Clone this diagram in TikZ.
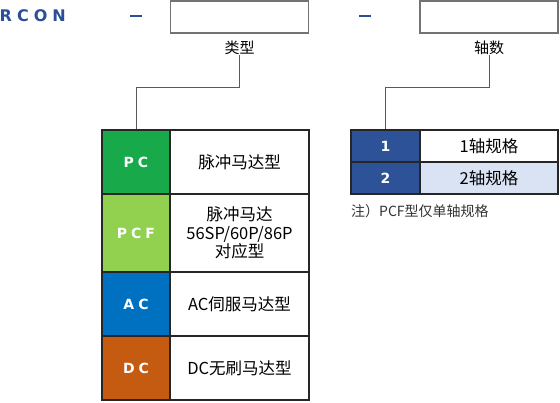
\documentclass[tikz,border=0pt]{standalone}
\usepackage{fontspec}
\setmainfont{Noto Sans CJK SC}
\newfontfamily\codefont{DejaVu Sans Bold}
\usetikzlibrary{positioning}
\definecolor{rconblue}{RGB}{43,79,150}
\definecolor{pcgreen}{RGB}{24,170,74}
\definecolor{pcfgreen}{RGB}{146,208,80}
\definecolor{acblue}{RGB}{0,112,192}
\definecolor{dcorange}{RGB}{197,90,17}
\definecolor{axisblue}{RGB}{45,82,152}
\definecolor{axislight}{RGB}{218,227,243}
\newcommand{\gap}[1]{\hspace{#1}}

\begin{document}
\begin{tikzpicture}[x=1pt, y=-1pt,
  slot/.style={draw=black!55, line width=1.3pt, minimum width=138pt, minimum height=32pt, inner sep=0pt},
  lbl/.style={inner sep=0pt, font=\fontsize{15}{18}\selectfont},
  code/.style={draw=black!85, line width=1.2pt, inner sep=0pt, text=white,
    font=\codefont\fontsize{14}{16}\selectfont},
  desc/.style={draw=black!85, line width=1.2pt, inner sep=0pt, align=center,
    font=\fontsize{16.5}{18.5}\selectfont},
  conn/.style={draw=black!65, line width=0.9pt}]
\useasboundingbox (0,0) rectangle (560,402);
% model code line
\node[anchor=west, inner sep=0pt, text=rconblue,
  font=\codefont\fontsize{16}{18}\selectfont] (rcon) at (-0.5,16) {R\gap{5pt}C\gap{5pt}O\gap{5pt}N};
\draw[rconblue, line width=2pt] (130,16) -- (142,16);
\draw[rconblue, line width=2pt] (359,16) -- (371,16);
\node[slot] (box1) at (239.5,17) {};
\node[slot] (box2) at (489,17) {};
\node[lbl, below=7pt of box1] (type) {类型};
\node[lbl, below=7pt of box2] (axis) {轴数};
% type table
\node[code, fill=pcgreen, minimum width=68pt, minimum height=64pt] (pc) at (136,162) {P\gap{4pt}C};
\node[code, fill=pcfgreen, minimum width=68pt, minimum height=78pt] (pcf) at (136,233) {P\gap{4pt}C\gap{4pt}F};
\node[code, fill=acblue, minimum width=68pt, minimum height=64pt] (ac) at (136,304) {A\gap{4pt}C};
\node[code, fill=dcorange, minimum width=68pt, minimum height=64pt] (dc) at (136,368) {D\gap{4pt}C};
\node[desc, minimum width=139pt, minimum height=64pt] (pcd) at (239.5,162) {脉冲马达型};
\node[desc, minimum width=139pt, minimum height=78pt] (pcfd) at (239.5,233) {脉冲马达\\56SP/60P/86P\\对应型};
\node[desc, minimum width=139pt, minimum height=64pt] (acd) at (239.5,304) {AC伺服马达型};
\node[desc, minimum width=139pt, minimum height=64pt] (dcd) at (239.5,368) {DC无刷马达型};
% axis table
\node[code, fill=axisblue, minimum width=69pt, minimum height=32pt] (ax1) at (385.5,146) {1};
\node[code, fill=axisblue, minimum width=69pt, minimum height=32pt] (ax2) at (385.5,178) {2};
\node[desc, minimum width=138pt, minimum height=32pt] (ax1d) at (489,146) {1轴规格};
\node[desc, fill=axislight, minimum width=138pt, minimum height=32pt] (ax2d) at (489,178) {2轴规格};
\node[anchor=west, inner sep=0pt, text=black!80, font=\fontsize{14}{16}\selectfont] (note) at (351,211) {注）PCF型仅单轴规格};
% connectors
\draw[conn] (type.south) -- ++(0,33) -| (pc.north);
\draw[conn] (axis.south) -- ++(0,33) -| (ax1.north);
\end{tikzpicture}
\end{document}
